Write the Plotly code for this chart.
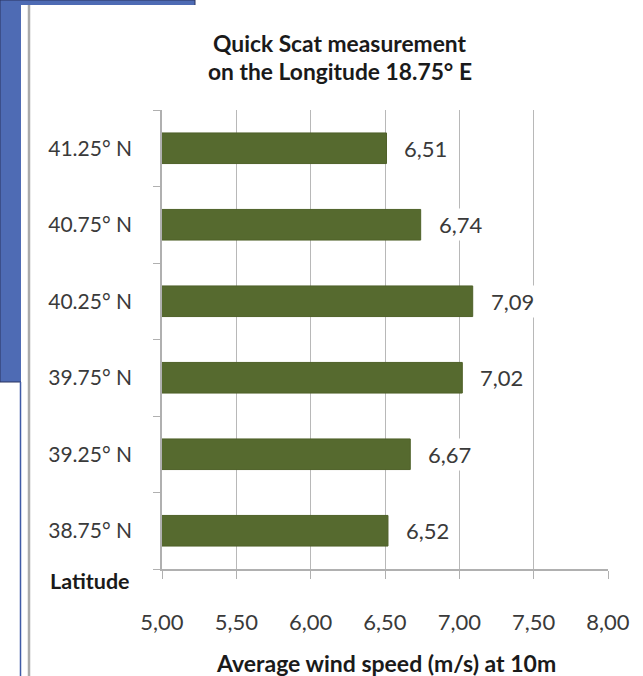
import plotly.graph_objects as go

# ---- data ----
latitudes = ["38.75° N", "39.25° N", "39.75° N", "40.25° N", "40.75° N", "41.25° N"]
wind_speed = [6.52, 6.67, 7.02, 7.09, 6.74, 6.51]
x_ticks = [5.0, 5.5, 6.0, 6.5, 7.0, 7.5, 8.0]
title_lines = ["Quick Scat measurement", "on the Longitude 18.75° E"]
x_title = "Average wind speed (m/s) at 10m"
y_title = "Latitude"

W, H = 643, 676
FONT = "Lato"


def px(x):
    return x / W


def py(y):
    return 1 - y / H


fig = go.Figure()
fig.add_trace(go.Bar(
    x=wind_speed, y=latitudes, orientation="h",
    marker=dict(color="#566a2f", line=dict(color="#4f6129", width=1)),
    hoverinfo="skip",
))

annotations = []
for lat, v in zip(latitudes, wind_speed):
    annotations.append(dict(
        x=v, y=lat, xref="x", yref="y",
        text=f"{v:.2f}".replace(".", ","),
        xanchor="left", yanchor="middle", xshift=15, showarrow=False,
        bgcolor="white", borderpad=2,
        font=dict(family=FONT, size=22, color="#3a3a3a"),
    ))

annotations += [
    dict(x=px(340), y=py(43), xref="paper", yref="paper", text=f"<b>{title_lines[0]}</b>",
         showarrow=False, xanchor="center", yanchor="middle",
         font=dict(family=FONT, size=22.8, color="#1a1a1a")),
    dict(x=px(340), y=py(71), xref="paper", yref="paper", text=f"<b>{title_lines[1]}</b>",
         showarrow=False, xanchor="center", yanchor="middle",
         font=dict(family=FONT, size=22.8, color="#1a1a1a")),
    dict(x=px(386), y=py(663), xref="paper", yref="paper", text=f"<b>{x_title}</b>",
         showarrow=False, xanchor="center", yanchor="middle",
         font=dict(family=FONT, size=23, color="#1a1a1a")),
    dict(x=px(132), y=py(581), xref="paper", yref="paper", text=f"<b>{y_title}</b>",
         showarrow=False, xanchor="right", yanchor="middle",
         font=dict(family=FONT, size=21.5, color="#1a1a1a")),
]

shapes = [
    # blue slide background block
    dict(type="rect", xref="paper", yref="paper", x0=0, x1=px(195), y0=py(382), y1=1,
         fillcolor="#4e6bb4", line=dict(color="#2a3560", width=1), layer="below"),
    # white picture area
    dict(type="rect", xref="paper", yref="paper", x0=px(21), x1=1, y0=0, y1=py(5),
         fillcolor="white", line=dict(width=0), layer="below"),
    # thin blue line on the left below the block
    dict(type="line", xref="paper", yref="paper", x0=px(20.5), x1=px(20.5), y0=0, y1=py(382),
         line=dict(color="#3f5aa6", width=1.5), layer="below"),
    # gray vertical line
    dict(type="line", xref="paper", yref="paper", x0=px(29), x1=px(29), y0=0, y1=py(5),
         line=dict(color="#ababab", width=2.5), layer="below"),
]

fig.update_layout(
    width=W, height=H,
    margin=dict(l=0, r=0, t=0, b=0, pad=0),
    paper_bgcolor="white", plot_bgcolor="rgba(0,0,0,0)",
    separators=",.",
    showlegend=False,
    bargap=0.6,
    annotations=annotations,
    shapes=shapes,
    xaxis=dict(
        domain=[px(162), px(608)], range=[5, 8], automargin=False,
        tickvals=x_ticks, tickformat=".2f",
        showgrid=True, gridcolor="#b8b8b8", gridwidth=1,
        showline=True, linecolor="#b0b0b0", linewidth=1.5,
        ticks="outside", ticklen=8, tickcolor="#b0b0b0",
        ticklabelstandoff=25,
        tickfont=dict(family=FONT, size=22, color="#3a3a3a"),
        zeroline=False, fixedrange=True,
    ),
    yaxis=dict(
        domain=[py(569), py(110)], automargin=False,
        categoryorder="array", categoryarray=latitudes,
        showgrid=False,
        showline=True, linecolor="#b0b0b0", linewidth=1.5,
        ticks="outside", ticklen=7, tickcolor="#b0b0b0", tickson="boundaries",
        ticklabelstandoff=24,
        tickfont=dict(family=FONT, size=21, color="#3a3a3a"),
        fixedrange=True,
    ),
)

fig.write_html("out.html")
